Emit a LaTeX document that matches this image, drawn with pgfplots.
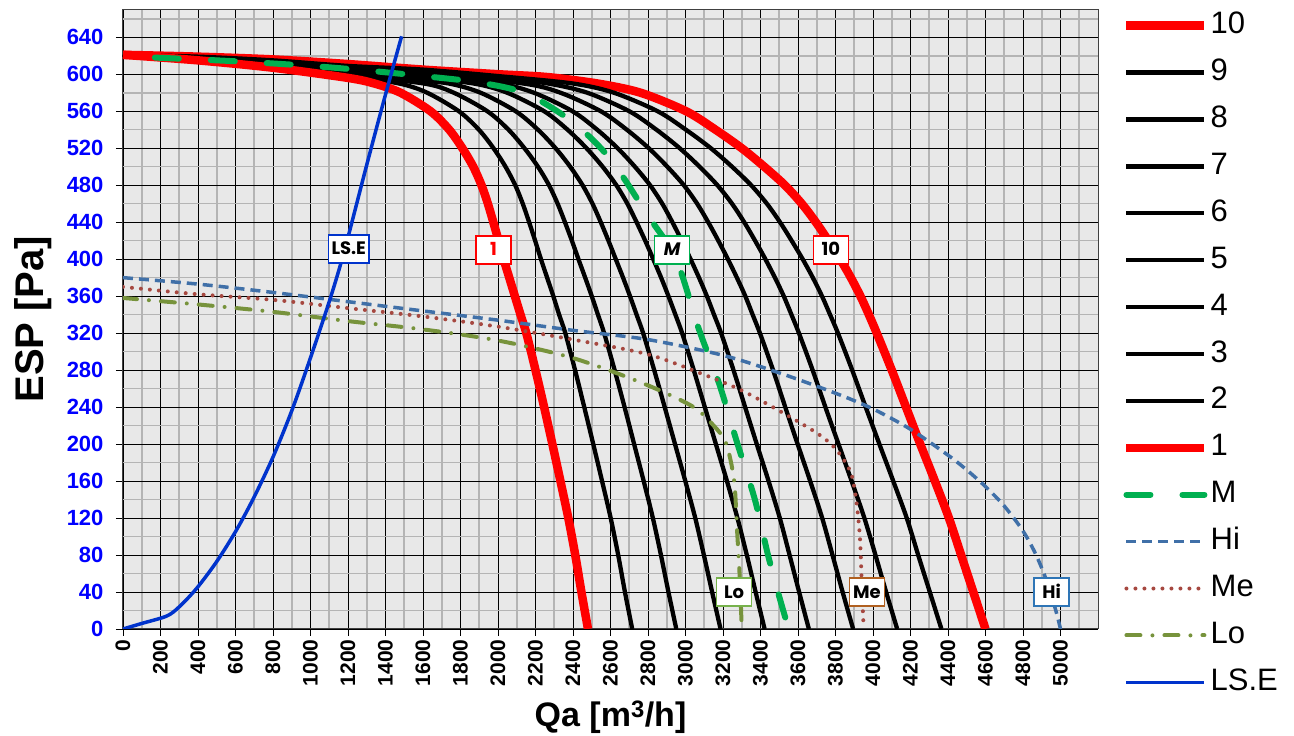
\documentclass[border=0pt]{standalone}
\usepackage{pgfplots}
\pgfplotsset{compat=1.18}
\usepackage{fontspec}
\setmainfont{Liberation Sans}
\newfontfamily\lblfont{Poppins}
\definecolor{bgc}{RGB}{232,232,232}
\definecolor{mgrid}{RGB}{180,180,180}
\definecolor{mgreen}{RGB}{0,176,80}
\definecolor{hiblue}{RGB}{64,112,168}
\definecolor{mered}{RGB}{166,72,64}
\definecolor{logreen}{RGB}{119,147,60}
\definecolor{lsblue}{RGB}{0,51,204}
\definecolor{lobox}{RGB}{119,178,76}
\definecolor{mebox}{RGB}{176,96,32}
\definecolor{hibox}{RGB}{46,117,182}
\begin{document}
\begin{tikzpicture}
\begin{axis}[
  scale only axis, width=975pt, height=619.5pt,
  xmin=0, xmax=5200, ymin=0, ymax=670,
  xtick={0,200,...,5000}, ytick={0,40,...,640},
  minor xtick={100,300,...,5100}, minor ytick={20,60,...,660},
  grid=both,
  major grid style={black, line width=0.8pt},
  minor grid style={mgrid, line width=1.6pt},
  axis background/.style={fill=bgc},
  axis line style={black!75, line width=1pt},
  tick align=outside, major tick length=7pt, minor tick length=0pt,
  major tick style={black, line width=0.8pt},
  xtick pos=lower, ytick pos=left,
  /pgf/number format/assume math mode=true,
  /pgf/number format/1000 sep={},
  xticklabel style={rotate=90, anchor=east, font=\fontsize{21}{21}\selectfont\bfseries},
  yticklabel style={font=\fontsize{22}{22}\selectfont\bfseries, text=blue, xshift=-9pt},
  xlabel={Qa [m\textsuperscript{3}/h]}, ylabel={ESP [Pa]},
  xlabel style={font=\fontsize{34}{34}\selectfont\bfseries, yshift=-8pt},
  ylabel style={font=\fontsize{40}{40}\selectfont\bfseries, yshift=8pt},
  legend style={at={(rel axis cs:1,1)}, anchor=north west, xshift=24pt, yshift=0pt,
    draw=none, fill=none, inner sep=0pt,
    font=\fontsize{31}{31}\selectfont, row sep=14.9pt,
    nodes={inner sep=2pt, text height=22pt, text depth=6pt}},
  legend cell align=left,
  legend image code/.code={\draw[#1] (0pt,0pt) -- (78pt,0pt);},
  every axis plot/.append style={line join=round},
]
\coordinate (O) at (rel axis cs:0,0);
% 10
\addplot[red, line width=8.5pt, smooth, tension=0.5] coordinates {(0,621)(400,619)(800,616)(1200,611)(1600,605)(2000,600)(2260,597)(2530,590)(2760,580)(3003,560)(3160,540)(3300,520)(3420,500)(3530,480)(3620,460)(3695,440)(3762,420)(3825,400)(3882,380)(3933,360)(3978,340)(4020,320)(4100,280)(4176,240)(4252,200)(4330,160)(4405,120)(4470,80)(4535,40)(4600,0)};
\addlegendentry{10}
% 9
\addplot[black, line width=4.3pt, smooth, tension=0.5] coordinates {(0,621)(400,619)(800,615)(1200,609)(1600,605)(2000,598)(2398,590)(2618,580)(2851,560)(3002,540)(3135,520)(3248,500)(3350,480)(3434,460)(3504,440)(3566,420)(3625,400)(3679,380)(3728,360)(3771,340)(3813,320)(3889,280)(3961,240)(4034,200)(4108,160)(4180,120)(4241,80)(4303,40)(4365,0)};
\addlegendentry{9}
% 8
\addplot[black, line width=4.3pt, smooth, tension=0.5] coordinates {(0,621)(400,618)(800,614)(1200,607)(1600,603)(2000,596)(2265,590)(2476,580)(2700,560)(2845,540)(2969,520)(3075,500)(3170,480)(3248,460)(3313,440)(3371,420)(3426,400)(3477,380)(3524,360)(3565,340)(3605,320)(3678,280)(3746,240)(3816,200)(3886,160)(3954,120)(4013,80)(4070,40)(4129,0)};
\addlegendentry{8}
% 7
\addplot[black, line width=4.3pt, smooth, tension=0.5] coordinates {(0,621)(400,618)(800,613)(1200,606)(1600,601)(2133,590)(2333,580)(2548,560)(2687,540)(2804,520)(2903,500)(2991,480)(3062,460)(3121,440)(3175,420)(3226,400)(3274,380)(3319,360)(3358,340)(3397,320)(3467,280)(3532,240)(3598,200)(3665,160)(3729,120)(3784,80)(3838,40)(3894,0)};
\addlegendentry{7}
% 6
\addplot[black, line width=4.3pt, smooth, tension=0.5] coordinates {(0,621)(400,617)(800,612)(1200,604)(1600,599)(2001,590)(2191,580)(2397,560)(2529,540)(2638,520)(2730,500)(2811,480)(2876,460)(2930,440)(2980,420)(3027,400)(3072,380)(3114,360)(3152,340)(3190,320)(3256,280)(3318,240)(3380,200)(3443,160)(3503,120)(3555,80)(3606,40)(3658,0)};
\addlegendentry{6}
% 5
\addplot[black, line width=4.3pt, smooth, tension=0.5] coordinates {(0,621)(400,617)(800,611)(1200,603)(1550,597)(1869,590)(2049,580)(2246,560)(2371,540)(2472,520)(2558,500)(2631,480)(2690,460)(2739,440)(2785,420)(2828,400)(2870,380)(2909,360)(2946,340)(2982,320)(3044,280)(3103,240)(3162,200)(3221,160)(3277,120)(3327,80)(3374,40)(3422,0)};
\addlegendentry{5}
% 4
\addplot[black, line width=4.3pt, smooth, tension=0.5] coordinates {(0,621)(400,617)(800,610)(1200,601)(1500,595)(1737,590)(1907,580)(2094,560)(2213,540)(2307,520)(2385,500)(2451,480)(2504,460)(2548,440)(2589,420)(2628,400)(2667,380)(2704,360)(2739,340)(2774,320)(2833,280)(2889,240)(2944,200)(2999,160)(3052,120)(3098,80)(3142,40)(3187,0)};
\addlegendentry{4}
% 3
\addplot[black, line width=4.3pt, smooth, tension=0.5] coordinates {(0,621)(400,616)(800,609)(1200,599)(1604,590)(1764,580)(1943,560)(2056,540)(2141,520)(2213,500)(2272,480)(2318,460)(2357,440)(2394,420)(2429,400)(2465,380)(2500,360)(2533,340)(2566,320)(2622,280)(2675,240)(2726,200)(2777,160)(2826,120)(2869,80)(2909,40)(2951,0)};
\addlegendentry{3}
% 2
\addplot[black, line width=4.3pt, smooth, tension=0.5] coordinates {(0,621)(400,616)(800,608)(1200,598)(1472,590)(1622,580)(1791,560)(1898,540)(1976,520)(2040,500)(2092,480)(2132,460)(2166,440)(2198,420)(2229,400)(2262,380)(2295,360)(2326,340)(2359,320)(2411,280)(2460,240)(2508,200)(2555,160)(2601,120)(2641,80)(2677,40)(2716,0)};
\addlegendentry{2}
% 1
\addplot[red, line width=8.5pt, smooth, tension=0.5] coordinates {(0,621)(400,615)(800,607)(1200,596)(1340,590)(1480,580)(1640,560)(1740,540)(1810,520)(1868,500)(1912,480)(1946,460)(1975,440)(2003,420)(2030,400)(2060,380)(2090,360)(2120,340)(2151,320)(2200,280)(2246,240)(2290,200)(2333,160)(2375,120)(2412,80)(2445,40)(2480,0)};
\addlegendentry{1}
% M
\addplot[mgreen, line width=6pt, line cap=round, dash pattern=on 24pt off 32pt, smooth, tension=0.5] coordinates {(170,618)(600,614)(1000,609)(1300,604)(1600,598)(1900,591)(2150,579)(2400,548)(2600,508)(2800,447)(2950,400)(3070,325)(3180,265)(3270,205)(3370,140)(3440,80)(3500,35)(3550,0)};
\addlegendentry{M}
% Hi
\addplot[hiblue, line width=3.5pt, dash pattern=on 10pt off 6pt, smooth, tension=0.5] coordinates {(0,380)(400,373)(800,364)(1200,354)(1600,344)(2000,334)(2400,323)(2800,313)(3200,296)(3500,277)(3800,255)(4000,238)(4200,216)(4400,188)(4500,172)(4600,154)(4700,133)(4800,106)(4870,80)(4930,50)(4975,20)(5000,0)};
\addlegendentry{Hi}
% Me
\addplot[mered, line width=4pt, line cap=round, dash pattern=on 0pt off 9pt, smooth, tension=0.5] coordinates {(0,370)(400,362)(800,356)(1200,347)(1600,338)(2000,327)(2400,313)(2800,297)(3100,275)(3300,258)(3500,236)(3700,212)(3800,195)(3880,170)(3910,140)(3930,100)(3940,50)(3950,0)};
\addlegendentry{Me}
% Lo
\addplot[logreen, line width=4pt, line cap=round, dash pattern=on 14pt off 12pt on 0pt off 12pt, smooth, tension=0.5] coordinates {(0,358)(400,351)(800,343)(1200,333)(1600,324)(2000,312)(2400,293)(2770,266)(3035,241)(3150,220)(3216,201)(3259,161)(3275,107)(3290,53)(3300,0)};
\addlegendentry{Lo}
% LS.E
\addplot[lsblue, line width=3.5pt, smooth, tension=0.5] coordinates {(0,0)(100,6)(233,14)(300,24)(393,44)(500,73)(605,107)(700,143)(800,186)(900,236)(996,291)(1103,356)(1182,410)(1300,502)(1400,578)(1486,641)};
\addlegendentry{LS.E}
% labels
\begin{scope}[every node/.style={fill=white, line width=1.5pt, font=\lblfont\fontsize{18}{18}\selectfont\bfseries, minimum height=28pt, minimum width=35pt, inner sep=3pt, text height=13pt, text depth=1pt}]
\node[draw=lsblue] at (axis cs:1204,411) {LS.E};
\node[draw=red, text=red] at (axis cs:1976,410) {1};
\node[draw=mgreen] at (axis cs:2929,410) {\itshape M};
\node[draw=red] at (axis cs:3775,410) {10};
\node[draw=lobox] at (axis cs:3259,40) {Lo};
\node[draw=mebox] at (axis cs:3967,40) {Me};
\node[draw=hibox] at (axis cs:4953,40) {Hi};
\end{scope}
\end{axis}
\pgfresetboundingbox
\path ([xshift=-123pt,yshift=-107pt]O) rectangle ++(1294pt,736pt);
\end{tikzpicture}
\end{document}
